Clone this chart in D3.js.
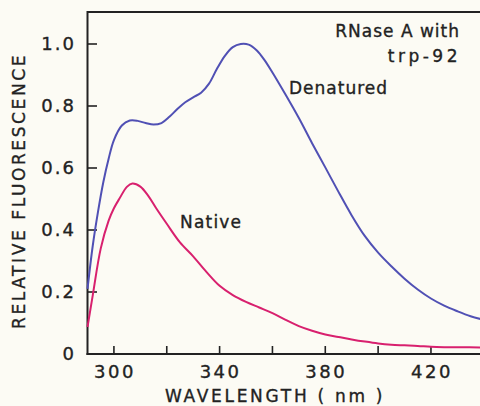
<!DOCTYPE html>
<html><head><meta charset="utf-8">
<script src="https://cdn.jsdelivr.net/npm/d3@7/dist/d3.min.js"></script>
<style>
html,body{margin:0;padding:0;background:#fcfbf4;}
svg{display:block;}
text{font-family:"DejaVu Sans",sans-serif;fill:#222;stroke:#222;stroke-width:0.35px;}
</style></head>
<body>
<svg id="c" width="480" height="406"></svg>
<script>
const denaturedNm = [290,292,294,296,298,300,303,306,309,312,315,318,321,324,327,330,333,336,339,342,345,348,351,354,357,360,365,370,375,380,385,390,395,400,405,410,415,420,425,430,435,440];
const denaturedVal = [0.21,0.35,0.46,0.555,0.63,0.69,0.737,0.753,0.752,0.745,0.74,0.745,0.765,0.79,0.812,0.828,0.843,0.872,0.92,0.962,0.99,1.0,0.998,0.98,0.948,0.908,0.836,0.761,0.68,0.602,0.523,0.447,0.38,0.327,0.283,0.243,0.208,0.179,0.156,0.138,0.122,0.11];
const nativeNm = [290,292,295,298,300,302,305,307,310,313,316,320,325,330,335,340,345,350,355,360,365,370,375,380,385,390,395,400,405,410,415,420,425,430,440];
const nativeVal = [0.087,0.19,0.34,0.43,0.47,0.50,0.54,0.55,0.54,0.51,0.47,0.42,0.36,0.315,0.265,0.22,0.19,0.168,0.15,0.132,0.11,0.09,0.075,0.063,0.055,0.047,0.04,0.034,0.03,0.028,0.026,0.023,0.022,0.022,0.021];
const xTicks = [300,320,340,360,380,400,420];
const xTickLabels = ["300","","340","","380","","420"];
const yTicks = [0,0.2,0.4,0.6,0.8,1.0];
const yTickLabels = ["0","0.2","0.4","0.6","0.8","1.0"];

const svg = d3.select("#c");
const x = d3.scaleLinear().domain([290,440]).range([87.5,483.8]);
const y = d3.scaleLinear().domain([0,1]).range([354,44]);
const axisColor = "#222";

// frame: top line
svg.append("line").attr("x1",87.5).attr("x2",480).attr("y1",12).attr("y2",12)
  .attr("stroke",axisColor).attr("stroke-width",2);
// left axis
svg.append("line").attr("x1",87.5).attr("x2",87.5).attr("y1",11).attr("y2",355)
  .attr("stroke",axisColor).attr("stroke-width",2);
// bottom axis
svg.append("line").attr("x1",86.5).attr("x2",480).attr("y1",354).attr("y2",354)
  .attr("stroke",axisColor).attr("stroke-width",2);

// y ticks (inward)
svg.selectAll(".yt").data(yTicks.filter(d=>d>0)).enter().append("line")
  .attr("x1",87.5).attr("x2",97).attr("y1",d=>y(d)).attr("y2",d=>y(d))
  .attr("stroke",axisColor).attr("stroke-width",1.6);
svg.selectAll(".yl").data(yTicks).enter().append("text")
  .attr("x",76).attr("y",d=>y(d)).attr("dy","0.36em")
  .attr("text-anchor","end").style("font-size","18px").style("letter-spacing","2px")
  .text((d,i)=>yTickLabels[i]);

// x ticks (inward)
svg.selectAll(".xt").data(xTicks).enter().append("line")
  .attr("x1",d=>x(d)).attr("x2",d=>x(d)).attr("y1",354).attr("y2",346)
  .attr("stroke",axisColor).attr("stroke-width",1.6);
svg.selectAll(".xl").data(xTicks).enter().append("text")
  .attr("x",d=>x(d)).attr("dx",1).attr("y",378).attr("text-anchor","middle")
  .style("font-size","18px").style("letter-spacing","2.5px")
  .text((d,i)=>xTickLabels[i]);

// axis titles
svg.append("text").attr("x",275).attr("y",402).attr("text-anchor","middle")
  .style("font-size","17px").style("letter-spacing","2.7px")
  .text("WAVELENGTH  ( nm )");
svg.append("text").attr("transform","translate(25,191) rotate(-90)")
  .attr("text-anchor","middle").style("font-size","17px").style("letter-spacing","2.6px")
  .text("RELATIVE  FLUORESCENCE");

// lines
const line = d3.line().x(d=>x(d[0])).y(d=>y(d[1])).curve(d3.curveCatmullRom.alpha(0.5));
svg.append("path").datum(denaturedNm.map((n,i)=>[n,denaturedVal[i]]))
  .attr("d",line).attr("fill","none").attr("stroke","#5050b4").attr("stroke-width",2);
svg.append("path").datum(nativeNm.map((n,i)=>[n,nativeVal[i]]))
  .attr("d",line).attr("fill","none").attr("stroke","#d8206e").attr("stroke-width",2);

// annotations
svg.append("text").attr("x",460).attr("y",37).attr("text-anchor","end")
  .style("font-size","17px").style("letter-spacing","1px").text("RNase A  with");
svg.append("text").attr("x",461).attr("y",62).attr("text-anchor","end")
  .style("font-size","17px").style("letter-spacing","3.5px").text("trp-92");
svg.append("text").attr("x",289).attr("y",94)
  .style("font-size","17px").style("letter-spacing","1px").text("Denatured");
svg.append("text").attr("x",180).attr("y",228)
  .style("font-size","17px").style("letter-spacing","1.2px").text("Native");
</script>
</body></html>
